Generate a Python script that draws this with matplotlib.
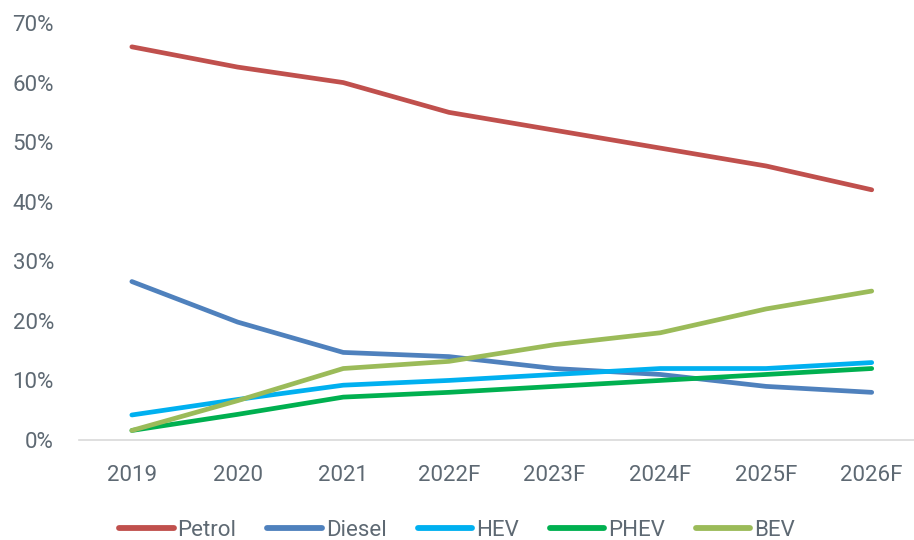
import matplotlib
matplotlib.use("Agg")
import matplotlib.pyplot as plt
from matplotlib.ticker import PercentFormatter

categories = ["2019", "2020", "2021", "2022F", "2023F", "2024F", "2025F", "2026F"]
petrol = [0.66, 0.626, 0.60, 0.55, 0.52, 0.49, 0.46, 0.42]
diesel = [0.266, 0.198, 0.147, 0.14, 0.12, 0.11, 0.09, 0.08]
hev = [0.042, 0.068, 0.092, 0.10, 0.11, 0.12, 0.12, 0.13]
phev = [0.016, 0.043, 0.072, 0.08, 0.09, 0.10, 0.11, 0.12]
bev = [0.016, 0.066, 0.12, 0.132, 0.16, 0.18, 0.22, 0.25]
series = [("Petrol", petrol, "#C0504D"), ("Diesel", diesel, "#4F81BD"),
          ("HEV", hev, "#00B0F0"), ("PHEV", phev, "#00B050"), ("BEV", bev, "#9BBB59")]

plt.rcParams['font.family'] = ['Roboto', 'DejaVu Sans']
txt = "#5E6973"
fs = 16

fig = plt.figure(figsize=(9.14, 5.4), dpi=100)
ax = fig.add_axes([79/914, 100/540, 1 - 79/914, 417/540])
x = list(range(len(categories)))
for name, vals, c in series:
    ax.plot(x, vals, color=c, lw=3.4, solid_capstyle='round', solid_joinstyle='round', label=name)

ax.set_xlim(-0.5, 7.4)
ax.set_ylim(0, 0.70)
ax.set_yticks([i / 10 for i in range(8)])
ax.yaxis.set_major_formatter(PercentFormatter(1.0, decimals=0))
ax.set_xticks(x)
ax.set_xticklabels(categories)
for s in ["top", "right", "left"]:
    ax.spines[s].set_visible(False)
ax.spines["bottom"].set_color("#D9D9D9")
ax.spines["bottom"].set_linewidth(1.2)
ax.tick_params(axis='both', length=0, labelsize=fs, colors=txt)
ax.tick_params(axis='y', pad=18)
ax.tick_params(axis='x', pad=18)

leg = fig.legend(loc='center', bbox_to_anchor=(0.5, 10/540), ncol=5, frameon=False,
                 fontsize=fs, handlelength=2.45, handletextpad=0.17, columnspacing=1.4)
for t in leg.get_texts():
    t.set_color(txt)
for l in leg.get_lines():
    l.set_linewidth(4.2)
    l.set_solid_capstyle('round')

fig.savefig("out.png", dpi=100)
